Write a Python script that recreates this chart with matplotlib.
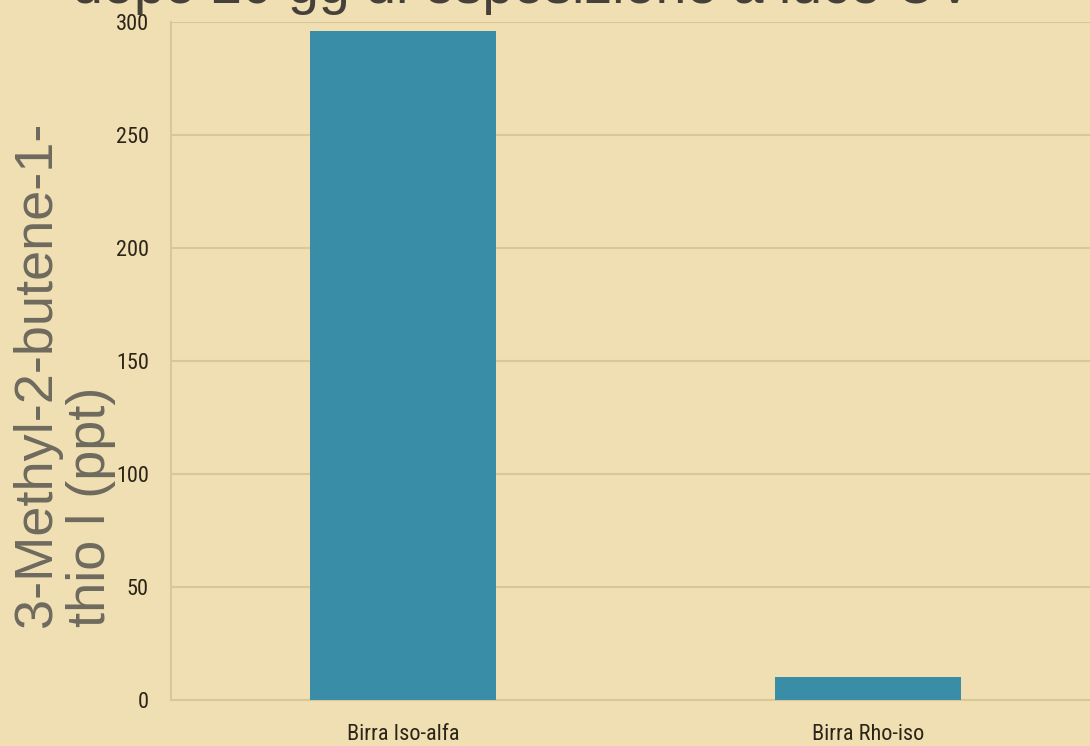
import matplotlib
matplotlib.use("Agg")
import matplotlib.pyplot as plt
from matplotlib import font_manager

# concentrazione di 3-MBT nelle due birre
categorie = ["Birra Iso-alfa", "Birra Rho-iso"]
valori = [296, 10]
y_ticks = [0, 50, 100, 150, 200, 250, 300]

sfondo = "#efdfb2"
colore_barre = "#3a8da7"
colore_griglia = "#d9c796"

# carattere stretto per le etichette degli assi, se c'e'
installati = {f.name for f in font_manager.fontManager.ttflist}
stretti = [n for n in ["Liberation Sans Narrow", "DejaVu Sans Condensed",
                       "Roboto Condensed", "Open Sans Condensed"] if n in installati]
tick_font = stretti + ["DejaVu Sans"]

fig = plt.figure(figsize=(10.9, 7.46), dpi=100, facecolor=sfondo)
ax = fig.add_axes([0.1569, 0.0617, 0.8523, 0.909])
ax.set_facecolor(sfondo)

x = list(range(len(categorie)))
ax.bar(x, valori, width=0.4, color=colore_barre, zorder=3)

ax.set_xlim(-0.5, 1.5)
ax.set_ylim(0, 300)
ax.set_yticks(y_ticks)
ax.set_xticks(x)
ax.set_xticklabels(categorie)

for lab in ax.get_yticklabels() + ax.get_xticklabels():
    lab.set_family(tick_font)
    lab.set_fontsize(16 if stretti else 13)
    lab.set_color("#2b2418")
ax.tick_params(axis="y", length=0, pad=16)
ax.tick_params(axis="x", length=0, pad=17)

ax.grid(axis="y", color=colore_griglia, linewidth=1.5, zorder=0)
for side in ["top", "right"]:
    ax.spines[side].set_visible(False)
for side in ["left", "bottom"]:
    ax.spines[side].set_color(colore_griglia)
    ax.spines[side].set_linewidth(1.5)

# titolo tagliato in alto
fig.text(0.479, 0.996, "dopo 20 gg di esposizione a luce UV",
         ha="center", va="baseline", fontsize=40,
         family=["Liberation Sans", "DejaVu Sans"], color="#45403a")

fig.text(0.0587, 0.1595, "3-Methyl-2-butene-1-\nthio l (ppt)",
         rotation=90, ha="center", va="bottom", multialignment="left",
         fontsize=39, linespacing=1.12,
         family=["Liberation Sans", "DejaVu Sans"], color="#6e6a5e")

fig.savefig("out.png", dpi=100, facecolor=sfondo)
